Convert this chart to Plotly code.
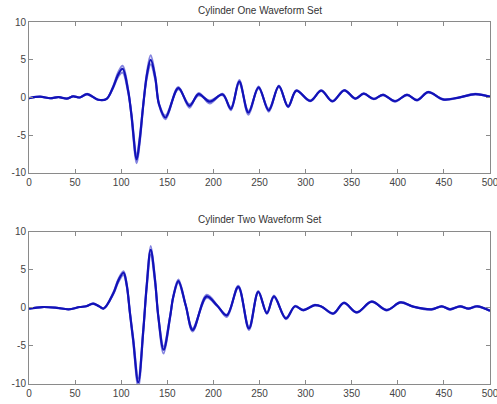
import plotly.graph_objects as go
from plotly.subplots import make_subplots

# ---------------- data ----------------
titles = ["Cylinder One Waveform Set", "Cylinder Two Waveform Set"]
x_ticks = [0, 50, 100, 150, 200, 250, 300, 350, 400, 450, 500]
y_ticks = [-10, -5, 0, 5, 10]
y_tick_labels = ["-10", "-5", "0", "5", "10"]

# Cylinder one: sample positions (extrema and slope points)
x_one = [0, 12, 23, 32, 41, 48, 55, 63, 75, 84, 91, 97, 101.5, 107.5, 111, 116.8, 120, 124, 128,
         132, 137, 141, 148, 162, 174, 184, 196, 210, 219, 228, 238, 249, 260, 271, 281, 290,
         305, 317, 329, 342, 354, 363, 374, 384, 397, 410, 421, 433, 449, 465, 484, 500]
one_mid = [-0.1, 0.1, -0.1, 0.05, -0.15, 0.15, 0.0, 0.45, -0.3, -0.2, 1.3, 3.1, 3.8, 0.9, -2.2, -8.2, -5.7, -0.9, 3.1,
           5.0, 2.6, -0.9, -2.65, 1.25, -1.1, 0.45, -0.55, 0.4, -1.5, 2.1, -2.0, 1.35, -1.7, 1.5, -1.2, 0.9,
           -0.45, 0.9, -0.5, 0.95, -0.15, 0.5, -0.2, 0.35, -0.5, 0.35, -0.35, 0.7, -0.25, -0.05, 0.45, 0.1]
one_big = [-0.1, 0.1, -0.1, 0.05, -0.15, 0.15, 0.0, 0.5, -0.3, -0.2, 1.4, 3.4, 4.2, 1.1, -2.4, -8.7, -6.1, -1.0, 3.4,
           5.6, 2.8, -1.0, -2.9, 1.4, -1.35, 0.6, -0.8, 0.5, -1.7, 2.3, -2.3, 1.45, -1.9, 1.6, -1.3, 0.95,
           -0.5, 0.95, -0.55, 1.0, -0.2, 0.55, -0.25, 0.4, -0.55, 0.4, -0.4, 0.75, -0.3, -0.05, 0.5, 0.1]
one_small = [-0.1, 0.1, -0.1, 0.05, -0.15, 0.15, 0.0, 0.4, -0.3, -0.2, 1.2, 2.8, 3.3, 0.7, -2.0, -7.7, -5.3, -0.8, 2.7,
             4.4, 2.3, -0.8, -2.4, 1.1, -0.9, 0.25, -0.4, 0.3, -1.3, 1.9, -1.8, 1.2, -1.5, 1.4, -1.1, 0.85,
             -0.4, 0.85, -0.45, 0.9, -0.1, 0.45, -0.15, 0.3, -0.45, 0.3, -0.3, 0.65, -0.2, -0.05, 0.4, 0.1]

# Cylinder two
x_two = [0, 15, 30, 43, 55, 62, 69.5, 76, 81, 91.5, 97, 102.5, 106, 109.5, 113, 118.5, 124, 127.6, 132,
         136.7, 140.3, 146, 153, 156.5, 162, 170, 177.5, 192.7, 204, 214.5, 227, 238.6, 248.7, 258,
         265.7, 278.7, 288.5, 297.5, 310, 317.4, 330, 341.6, 355.4, 371.7, 388, 403, 416.8, 436.7,
         447.6, 456.6, 467.5, 476.5, 486.3, 500]
two_mid = [-0.1, 0.1, 0.0, -0.2, 0.1, 0.2, 0.55, 0.2, -0.1, 1.9, 3.6, 4.6, 3.0, -0.7, -4.2, -9.8, -2.9, 2.8, 7.6,
           3.6, -1.2, -5.5, -1.2, 1.45, 3.5, 0.3, -2.9, 1.5, 0.3, -1.0, 2.75, -2.7, 2.1, -0.7,
           1.5, -1.4, 0.2, -0.3, 0.35, 0.15, -0.75, 0.65, -0.6, 0.8, -0.3, 0.7, 0.15, -0.2,
           0.2, -0.2, 0.2, -0.1, 0.2, -0.4]
two_big = [-0.1, 0.1, 0.0, -0.2, 0.1, 0.2, 0.6, 0.2, -0.1, 2.0, 3.8, 4.8, 3.1, -0.8, -4.5, -10.4, -3.1, 3.0, 8.1,
           3.8, -1.3, -6.0, -1.3, 1.5, 3.7, 0.3, -3.1, 1.7, 0.35, -1.2, 2.9, -2.9, 2.2, -0.8,
           1.6, -1.5, 0.25, -0.35, 0.4, 0.15, -0.8, 0.7, -0.65, 0.85, -0.35, 0.75, 0.15, -0.25,
           0.25, -0.25, 0.25, -0.1, 0.25, -0.45]
two_small = [-0.1, 0.1, 0.0, -0.2, 0.1, 0.2, 0.5, 0.2, -0.1, 1.8, 3.4, 4.3, 2.8, -0.6, -3.9, -9.3, -2.7, 2.5, 7.0,
             3.3, -1.1, -5.1, -1.1, 1.4, 3.3, 0.3, -2.7, 1.3, 0.25, -0.9, 2.6, -2.5, 2.0, -0.6,
             1.4, -1.3, 0.15, -0.25, 0.3, 0.15, -0.7, 0.6, -0.55, 0.75, -0.25, 0.65, 0.15, -0.15,
             0.15, -0.15, 0.15, -0.1, 0.15, -0.35]

panels = [
    (x_one, [one_big, one_small, one_mid]),
    (x_two, [two_big, two_small, two_mid]),
]

# ---------------- figure ----------------
fig = make_subplots(rows=2, cols=1, vertical_spacing=0.16)

edge_style = dict(color="rgba(80,80,210,0.7)", width=2.0)
main_style = dict(color="#1212b8", width=2.2)

for r, (xs, series) in enumerate(panels, start=1):
    for i, ys in enumerate(series):
        style = main_style if i == len(series) - 1 else edge_style
        fig.add_trace(go.Scatter(x=xs, y=ys, mode="lines",
                                 line=dict(shape="spline", smoothing=1.0, **style),
                                 showlegend=False, hoverinfo="skip"),
                      row=r, col=1)

axis_common = dict(showline=True, mirror="ticks", linecolor="#8a8a8a", linewidth=1,
                   ticks="inside", ticklen=4, tickcolor="#8a8a8a", showgrid=False,
                   zeroline=False, automargin=False, ticklabeloverflow="allow",
                   tickfont=dict(family="Liberation Sans, Arial", size=10, color="#444444"))

for r in (1, 2):
    fig.update_xaxes(range=[0, 500], tickvals=x_ticks, ticktext=[str(v) for v in x_ticks],
                     **axis_common, row=r, col=1)
    fig.update_yaxes(range=[-10, 10], tickvals=y_ticks, ticktext=y_tick_labels,
                     **axis_common, row=r, col=1)

fig.update_layout(
    width=497, height=404,
    margin=dict(l=29, r=7, t=22, b=20),
    paper_bgcolor="white", plot_bgcolor="white",
    xaxis=dict(domain=[0, 1]), xaxis2=dict(domain=[0, 1]),
    yaxis=dict(domain=[0.583, 1.0]), yaxis2=dict(domain=[0.0, 0.421]),
)

for top, text in zip([1.0, 0.421], titles):
    fig.add_annotation(text=text, x=0.5, xref="paper", y=top, yref="paper",
                       yanchor="middle", yshift=12, showarrow=False,
                       font=dict(family="Liberation Sans, Arial", size=10, color="#333333"))

fig.write_html("out.html", config={"displayModeBar": False},
               post_script="document.body.style.margin='0';document.body.style.overflow='hidden';")
